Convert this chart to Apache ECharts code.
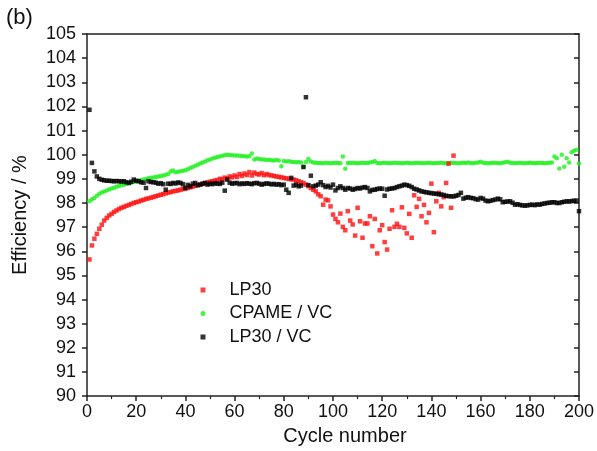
<!DOCTYPE html>
<html>
<head>
<meta charset="utf-8">
<script src="https://cdn.jsdelivr.net/npm/echarts@6/dist/echarts.min.js"></script>
<style>html,body{margin:0;padding:0;background:#fff;}#c{width:597px;height:451px;}</style>
</head>
<body>
<div id="c"></div>
<script>
// Efficiency (%) per cycle, starting at cycle 1
var lp30 = [
95.66,96.24,96.52,96.72,96.93,97.10,97.27,97.38,97.48,97.55,
97.63,97.69,97.75,97.80,97.84,97.88,97.92,97.96,98.00,98.03,
98.06,98.10,98.13,98.17,98.19,98.22,98.25,98.28,98.31,98.34,
98.37,98.40,98.43,98.45,98.48,98.50,98.52,98.55,98.58,98.60,
98.62,98.65,98.68,98.71,98.74,98.77,98.79,98.82,98.85,98.88,
98.90,98.93,98.95,99.00,98.98,99.05,99.02,99.10,99.06,99.14,
99.08,99.20,99.12,99.22,99.16,99.28,99.14,99.26,99.20,99.18,
99.24,99.15,99.20,99.16,99.14,99.12,99.10,99.08,99.06,99.04,
99.02,99.00,98.98,98.97,98.94,98.90,98.86,98.82,98.76,98.70,
98.62,98.55,98.48,98.36,98.28,97.93,98.14,98.11,97.86,97.52,
97.34,97.20,97.56,97.01,96.87,97.66,97.27,97.11,96.65,97.80,
97.24,96.56,97.15,97.15,97.45,96.21,97.34,95.91,96.87,97.08,
96.38,96.07,96.93,97.70,97.01,97.14,97.01,97.82,96.97,96.74,
97.55,96.56,98.32,97.84,98.17,97.45,97.92,97.20,97.59,98.80,
96.79,98.07,98.42,97.86,98.24,98.83,99.63,97.80,99.96
];
var cpameVc = [
98.07,98.15,98.21,98.30,98.38,98.43,98.48,98.52,98.56,98.60,
98.63,98.67,98.70,98.73,98.76,98.79,98.82,98.84,98.87,98.89,
98.92,98.95,98.97,98.99,99.02,99.04,99.06,99.08,99.10,99.12,
99.14,99.17,99.20,99.30,99.35,99.27,99.29,99.31,99.34,99.36,
99.40,99.45,99.49,99.54,99.58,99.64,99.68,99.72,99.77,99.80,
99.84,99.87,99.90,99.93,99.96,99.98,100.00,99.99,99.98,99.97,
99.97,99.96,99.95,99.94,99.93,99.94,100.05,99.80,99.84,99.82,
99.80,99.80,99.78,99.79,99.77,99.76,99.78,99.76,99.52,99.74,
99.72,99.73,99.71,99.70,99.69,99.70,99.68,99.50,99.70,99.82,
99.72,99.68,99.67,99.66,99.66,99.65,99.67,99.66,99.65,99.66,
99.67,99.66,99.65,99.93,99.42,99.66,99.66,99.67,99.66,99.65,
99.66,99.67,99.66,99.66,99.68,99.70,99.74,99.66,99.65,99.66,
99.67,99.66,99.65,99.66,99.67,99.66,99.66,99.65,99.66,99.67,
99.66,99.65,99.66,99.67,99.66,99.66,99.65,99.66,99.67,99.66,
99.65,99.66,99.66,99.67,99.66,99.65,99.66,99.67,99.66,99.66,
99.65,99.66,99.67,99.66,99.68,99.66,99.65,99.67,99.68,99.71,
99.67,99.66,99.65,99.66,99.67,99.66,99.66,99.65,99.67,99.69,
99.71,99.67,99.66,99.65,99.66,99.67,99.66,99.65,99.66,99.67,
99.66,99.65,99.66,99.67,99.66,99.65,99.66,99.67,99.68,99.93,
99.85,99.43,100.00,99.50,99.85,99.68,100.10,100.16,100.20,99.64
];
var lp30Vc = [
101.86,99.66,99.31,99.10,99.00,98.96,98.94,98.92,98.92,98.91,
98.90,98.91,98.90,98.89,98.90,98.86,98.83,98.88,98.97,98.92,
98.90,98.86,98.84,98.62,98.90,98.87,98.86,98.84,98.80,98.82,
98.78,98.55,98.80,98.79,98.83,98.81,98.85,98.83,98.78,98.62,
98.75,98.69,98.80,98.83,98.74,98.76,98.80,98.83,98.76,98.80,
98.78,98.82,98.80,98.79,98.84,98.51,98.97,98.84,98.80,98.82,
98.83,98.78,98.81,98.79,98.82,98.80,98.78,98.82,98.83,98.80,
98.76,98.79,98.81,98.80,98.77,98.79,98.76,98.78,98.74,98.76,
98.55,98.42,99.04,98.72,98.76,98.69,98.72,99.49,102.38,98.74,
99.13,98.69,98.72,98.76,98.86,98.74,98.66,98.71,98.64,98.76,
98.52,98.62,98.69,98.62,98.55,98.62,98.60,98.55,98.58,98.62,
98.60,98.64,98.66,98.62,98.48,98.54,98.55,98.58,98.60,98.59,
98.30,98.56,98.59,98.60,98.62,98.66,98.69,98.72,98.76,98.74,
98.71,98.66,98.59,98.56,98.52,98.48,98.46,98.44,98.42,98.41,
98.39,98.38,98.36,98.35,98.33,98.30,98.28,98.28,98.27,98.30,
98.33,98.42,98.18,98.22,98.24,98.21,98.20,98.16,98.14,98.21,
98.18,98.10,98.07,98.09,98.12,98.14,98.18,98.15,98.03,98.05,
98.06,98.07,98.01,97.93,97.95,97.92,97.90,97.89,97.90,97.92,
97.93,97.91,97.94,97.93,97.96,97.98,98.00,98.01,98.03,98.03,
98.00,98.00,98.03,98.05,98.07,98.06,98.08,98.09,98.10,97.66
];
var seriesNames = ['LP30', 'CPAME / VC', 'LP30 / VC'];

function pairs(arr) { return arr.map(function (v, i) { return [i + 1, v]; }); }

var chart = echarts.init(document.getElementById('c'), null, {renderer: 'canvas'});
var font = 'Liberation Sans, Arial, sans-serif';
var axisCol = '#222';
chart.setOption({
  animation: false,
  backgroundColor: '#fff',
  title: {text: '(b)', left: 6, top: 7, padding: 0, textStyle: {fontFamily: font, fontSize: 22, fontWeight: 'normal', color: '#111'}},
  grid: {left: 87, right: 16, top: 34, bottom: 54, containLabel: false},
  legend: {
    orient: 'vertical', left: 200.5, top: 281, padding: 0, itemWidth: 5, itemHeight: 5, itemGap: 5.5,
    data: seriesNames,
    textStyle: {fontFamily: font, fontSize: 18, color: '#111', padding: [0, 0, 0, 19]}
  },
  xAxis: [{
    type: 'value', min: 0, max: 200, interval: 20, position: 'bottom',
    name: 'Cycle number', nameLocation: 'middle', nameGap: 29,
    nameTextStyle: {fontFamily: font, fontSize: 20, color: '#111', padding: [0, 0, 0, 24]},
    axisLine: {show: true, onZero: false, lineStyle: {color: axisCol, width: 1.5}},
    axisTick: {show: true, inside: false, length: 5, lineStyle: {color: axisCol, width: 1.5}},
    minorTick: {show: true, splitNumber: 2, length: 3, lineStyle: {color: axisCol, width: 1.2}},
    axisLabel: {fontFamily: font, fontSize: 18, color: '#111', margin: 7},
    splitLine: {show: false}
  }, {
    type: 'value', min: 0, max: 200, interval: 20, position: 'top',
    axisLine: {show: true, onZero: false, lineStyle: {color: axisCol, width: 1.5}},
    axisTick: {show: false}, axisLabel: {show: false}, splitLine: {show: false}
  }],
  yAxis: [{
    type: 'value', min: 90, max: 105, interval: 1, position: 'left',
    name: 'Efficiency / %', nameLocation: 'middle', nameGap: 57,
    nameTextStyle: {fontFamily: font, fontSize: 20, color: '#111'},
    axisLine: {show: true, onZero: false, lineStyle: {color: axisCol, width: 1.5}},
    axisTick: {show: true, inside: false, length: 5, lineStyle: {color: axisCol, width: 1.5}},
    axisLabel: {fontFamily: font, fontSize: 18, color: '#111', margin: 11},
    splitLine: {show: false}
  }, {
    type: 'value', min: 90, max: 105, interval: 1, position: 'right',
    axisLine: {show: true, onZero: false, lineStyle: {color: axisCol, width: 1.5}},
    axisTick: {show: true, inside: true, length: 5, lineStyle: {color: axisCol, width: 1.5}},
    axisLabel: {show: false}, splitLine: {show: false}
  }],
  series: [
    {name: seriesNames[0], type: 'scatter', symbol: 'rect', symbolSize: 4.5, itemStyle: {color: '#ff1010'}, data: pairs(lp30), z: 3},
    {name: seriesNames[1], type: 'scatter', symbol: 'circle', symbolSize: 4.5, itemStyle: {color: '#1ef01e'}, data: pairs(cpameVc), z: 2},
    {name: seriesNames[2], type: 'scatter', symbol: 'rect', symbolSize: 4.5, itemStyle: {color: '#000'}, data: pairs(lp30Vc), z: 4}
  ]
});
</script>
</body>
</html>
